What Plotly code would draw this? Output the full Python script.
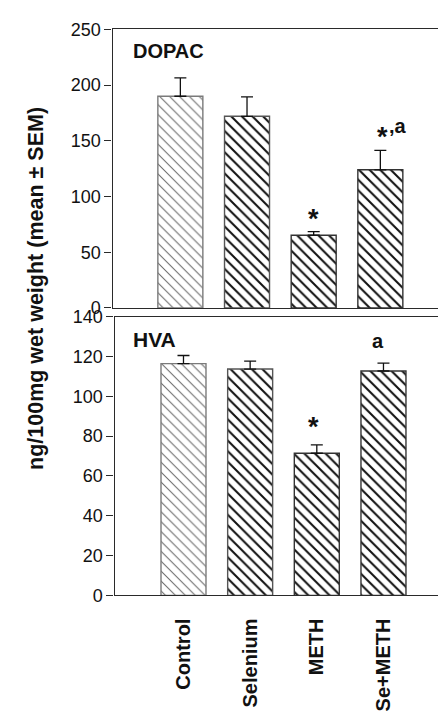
import plotly.graph_objects as go

# ---------------- data ----------------
categories = ["Control", "Selenium", "METH", "Se+METH"]
dopac_mean = [190, 172, 65.3, 124]
dopac_sem = [16.6, 17.5, 3.2, 17.4]
hva_mean = [116.4, 113.7, 71.4, 112.7]
hva_sem = [4.1, 4.0, 4.2, 4.0]
dopac_marks = ["", "", "*", "*,a"]
hva_marks = ["", "", "*", "a"]
dopac_ticks = [0, 50, 100, 150, 200, 250]
hva_ticks = [0, 20, 40, 60, 80, 100, 120, 140]
y_title = "ng/100mg wet weight (mean ± SEM)"

# ---------------- styles ----------------
W, H = 438, 714
FONT = "Arial, Liberation Sans, Helvetica, sans-serif"
LINE = "#2a2a2a"


def fx(p):
    return p / W


def fy(p):
    return 1 - p / H


pattern = dict(
    shape=["\\", "\\", "\\", "\\"],
    fgcolor=["#6a6a6a", "#111111", "#111111", "#111111"],
    bgcolor="white",
    size=[7, 7.5, 7.5, 7.5],
    solidity=[0.15, 0.27, 0.27, 0.27],
    fillmode="replace",
)
outline = ["#7a7a7a", "#555555", "#333333", "#333333"]

fig = go.Figure()


def add_panel(mean, sem, xa, ya):
    fig.add_trace(go.Bar(
        x=categories, y=mean, xaxis=xa, yaxis=ya,
        width=0.675,
        marker=dict(color="white", pattern=pattern,
                    line=dict(color=outline, width=1.4)),
        error_y=dict(type="data", array=sem, arrayminus=[0] * len(sem),
                     symmetric=False, color="#111", thickness=1.3, width=6),
        showlegend=False, hoverinfo="skip",
    ))


add_panel(dopac_mean, dopac_sem, "x", "y")
add_panel(hva_mean, hva_sem, "x2", "y2")

axis_common = dict(showline=True, linecolor=LINE, linewidth=1.3, showgrid=False,
                   zeroline=False)
tickfont = dict(size=18, family=FONT, color="#111")

fig.update_layout(
    width=W, height=H, autosize=False,
    margin=dict(l=0, r=0, t=0, b=0),
    paper_bgcolor="white", plot_bgcolor="white",
    font=dict(family=FONT, color="#111"),
    xaxis=dict(domain=[fx(112.5), 1], range=[-1.018, 3.865], mirror=True,
               showticklabels=False, ticks="", anchor="y", **axis_common),
    yaxis=dict(domain=[fy(306.5), fy(20)], range=[0, 250], tickvals=dopac_ticks,
               ticks="outside", ticklen=7, tickcolor=LINE, tickwidth=1.3,
               tickfont=tickfont, anchor="x", **axis_common),
    xaxis2=dict(domain=[fx(114.5), 1], range=[-1.035, 3.818], mirror=True,
                ticks="", anchor="y2", tickangle=-90,
                tickfont=dict(size=20, family=FONT, color="#111", weight="bold"),
                ticklabelstandoff=14,
                **axis_common),
    yaxis2=dict(domain=[fy(602.3), fy(315.5)], range=[0, 140], tickvals=hva_ticks,
                ticks="outside", ticklen=7, tickcolor=LINE, tickwidth=1.3,
                tickfont=tickfont, anchor="x2", **axis_common),
)

STAR = "<span style='font-size:27px'>*</span>"

ann = []


def mark(x, y, xr, yr, text, xshift, yshift, anchor="center"):
    ann.append(dict(x=x, y=y, xref=xr, yref=yr, text=f"<b>{text}</b>",
                    showarrow=False, xanchor=anchor, yanchor="middle",
                    xshift=xshift, yshift=yshift,
                    font=dict(size=20, family=FONT, color="#111")))


# significance marks (placed just above each error bar)
for c, m, s, t in zip(categories, dopac_mean, dopac_sem, dopac_marks):
    if t == "*":
        mark(c, m + s, "x", "y", STAR, 0, 13)
    elif t == "*,a":
        mark(c, m + s, "x", "y", STAR, 2, 13)
        mark(c, m + s, "x", "y", ",a", 7, 24, anchor="left")
for c, m, s, t in zip(categories, hva_mean, hva_sem, hva_marks):
    if t == "*":
        mark(c, m + s, "x2", "y2", STAR, -3, 18)
    elif t == "a":
        mark(c, m + s, "x2", "y2", "a", -5, 22)

# panel labels
ann.append(dict(x=fx(131), y=fy(42), xref="paper", yref="paper", text="<b>DOPAC</b>",
                showarrow=False, xanchor="left", yanchor="middle",
                font=dict(size=20, family=FONT, color="#111")))
ann.append(dict(x=fx(131), y=fy(339), xref="paper", yref="paper", text="<b>HVA</b>",
                showarrow=False, xanchor="left", yanchor="middle",
                font=dict(size=21, family=FONT, color="#111")))
# y-axis title
ann.append(dict(x=fx(36), y=fy(287), xref="paper", yref="paper", text=f"<b>{y_title}</b>",
                showarrow=False, textangle=-90, xanchor="center", yanchor="middle",
                font=dict(size=21.5, family=FONT, color="#111")))
fig.update_layout(annotations=ann)

fig.write_html("out.html", config={"displayModeBar": False},
               post_script="document.body.style.margin='0';")
